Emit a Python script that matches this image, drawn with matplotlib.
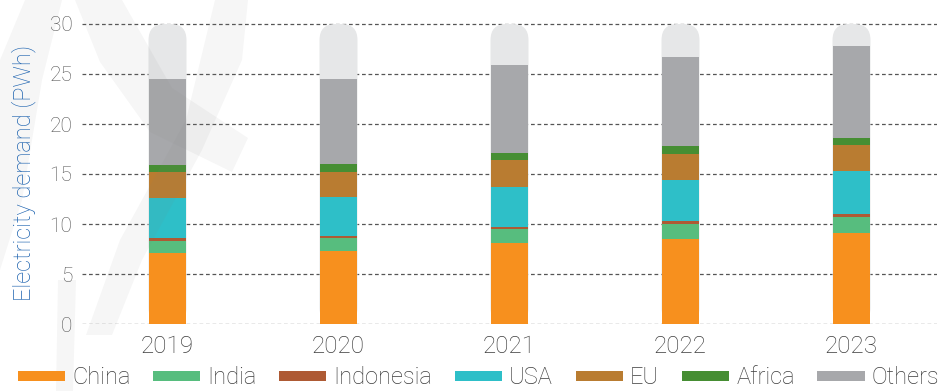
import matplotlib
matplotlib.use("Agg")
import matplotlib.pyplot as plt
from matplotlib.patches import FancyBboxPatch, Polygon
import numpy as np

years = ["2019", "2020", "2021", "2022", "2023"]
series_names = ["China", "India", "Indonesia", "USA", "EU", "Africa", "Others"]
china = [7.07, 7.3, 8.1, 8.5, 9.1]
india = [1.23, 1.3, 1.4, 1.5, 1.6]
indonesia = [0.33, 0.25, 0.25, 0.3, 0.33]
usa = [3.97, 3.87, 3.97, 4.1, 4.27]
eu = [2.6, 2.5, 2.7, 2.6, 2.6]
africa = [0.7, 0.8, 0.7, 0.8, 0.7]
others = [8.6, 8.5, 8.8, 8.9, 9.2]
background_total = [30, 30, 30, 30, 30]
yticks = [0, 5, 10, 15, 20, 25, 30]

colors = ["#F7901E", "#57BD7E", "#AE5A34", "#2EBFC8", "#B97C31", "#468E33", "#A7A8AB"]
bg_color = "#E6E7E8"

plt.rcParams['font.family'] = ['Roboto', 'DejaVu Sans']

W, H = 946, 391
fig = plt.figure(figsize=(W / 100, H / 100), dpi=100)
ax_left, ax_right, ax_bottom_px, ax_top_px = 82, 937, 324, 21
ax = fig.add_axes([ax_left / W, (H - ax_bottom_px) / H,
                   (ax_right - ax_left) / W, (ax_bottom_px - ax_top_px) / H])
ax.patch.set_alpha(0)
ymax = 30.3
ax.set_xlim(-0.5, 4.5)
ax.set_ylim(0, ymax)

x = np.arange(len(years))
bar_w = 0.222

# rounded light-grey background bars
px_per_x = (ax_right - ax_left) / 5.0
px_per_y = (ax_bottom_px - ax_top_px) / ymax
r_px = 16
r_x = r_px / px_per_x
aspect = (r_px / px_per_y) / r_x
for xi, tot in zip(x, background_total):
    p = FancyBboxPatch((xi - bar_w / 2, 0), bar_w, tot,
                       boxstyle=f"round,pad=0,rounding_size={r_x}",
                       mutation_aspect=aspect, facecolor=bg_color,
                       edgecolor="none", zorder=2)
    ax.add_patch(p)

data = [china, india, indonesia, usa, eu, africa, others]
bottom = np.zeros(len(years))
for name, vals, c in zip(series_names, data, colors):
    ax.bar(x, vals, bar_w, bottom=bottom, color=c, label=name, zorder=3,
           linewidth=0)
    bottom += np.array(vals)

for yt in yticks:
    ax.axhline(yt, color="#555555", lw=0.9, ls=(0, (3, 2.2)), zorder=1)

ax.set_yticks(yticks)
ax.set_xticks(x)
ax.set_xticklabels(years)
for s in ax.spines.values():
    s.set_visible(False)
ax.tick_params(axis="y", length=0, pad=7, labelsize=15, labelcolor="#555555")
ax.tick_params(axis="x", length=0, pad=8, labelsize=17.5, labelcolor="#3d3d3d")
for lbl in ax.get_xticklabels() + ax.get_yticklabels():
    lbl.set_fontweight("light")

fig.text(24 / W, (H - 172.5) / H, "Electricity demand (PWh)", rotation=90,
         ha="center", va="center", color="#1F64B0", fontsize=17,
         fontweight="light")

# faint decorative watermark (figure pixel coordinates, top-left origin)
wm_shapes = [
    [(0, 60), (25, 0), (62, 0), (42, 80), (22, 200), (0, 270)],
    [(75, 0), (122, 0), (172, 88), (248, 138), (232, 172), (150, 132), (100, 62)],
    [(215, 0), (248, 0), (242, 60), (202, 150), (142, 260), (112, 335),
     (86, 335), (120, 240), (186, 120)],
    [(58, 280), (76, 280), (73, 391), (56, 391)],
]
for shp in wm_shapes:
    pts = [(px / W, 1 - py / H) for px, py in shp]
    fig.patches.append(Polygon(pts, closed=True, transform=fig.transFigure,
                               facecolor="#808080", alpha=0.07,
                               edgecolor="none", zorder=0.5))

handles, labels = ax.get_legend_handles_labels()
leg = fig.legend(handles, labels, loc="center", bbox_to_anchor=(478.5 / W, 13 / H),
                 ncol=7, frameon=False, fontsize=17, handlelength=2.0,
                 handleheight=0.3, handletextpad=0.3, columnspacing=0.96,
                 borderaxespad=0, borderpad=0)
for t in leg.get_texts():
    t.set_color("#3d3d3d")
    t.set_fontweight("light")

fig.savefig("out.png", dpi=100)
